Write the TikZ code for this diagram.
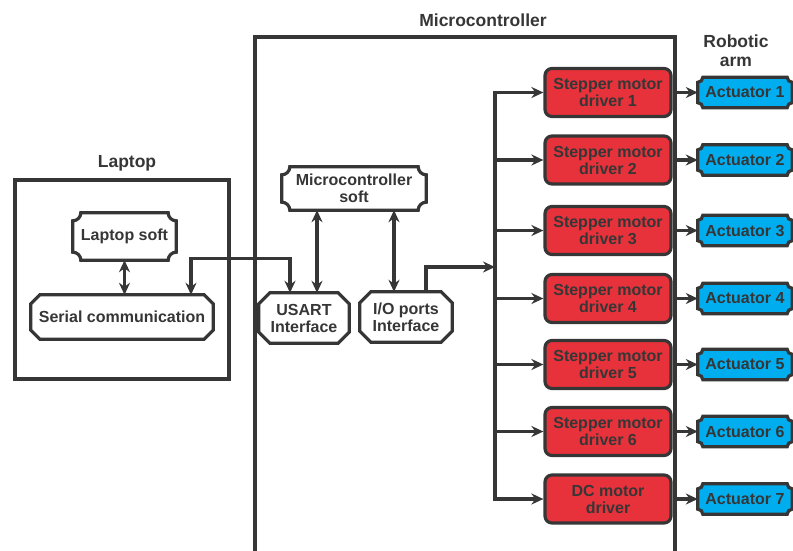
\documentclass[tikz,border=0pt]{standalone}
\usepackage{fontspec}
\setmainfont{Liberation Sans}
\usetikzlibrary{arrows.meta,backgrounds,calc}
\definecolor{ink}{HTML}{363636}
\definecolor{redfill}{HTML}{E8323B}
\definecolor{cyanfill}{HTML}{00AEEF}
\newcommand\concavebox[3]{%
  \draw[boxline, fill=#3] let \p1=(#1.south west), \p2=(#1.north east) in
   (\x1+#2,\y2) -- (\x2-#2,\y2) arc[start angle=180,end angle=270,radius=#2]
   -- (\x2,\y1+#2) arc[start angle=90,end angle=180,radius=#2]
   -- (\x1+#2,\y1) arc[start angle=0,end angle=90,radius=#2]
   -- (\x1,\y2-#2) arc[start angle=270,end angle=360,radius=#2] -- cycle;}
\newcommand\octbox[2]{%
  \draw[boxline, fill=white] let \p1=(#1.south west), \p2=(#1.north east) in
   (\x1+#2,\y2) -- (\x2-#2,\y2) -- (\x2,\y2-#2) -- (\x2,\y1+#2) -- (\x2-#2,\y1)
   -- (\x1+#2,\y1) -- (\x1,\y1+#2) -- (\x1,\y2-#2) -- cycle;}
\tikzset{
  x=1pt, y=1pt,
  boxline/.style={line width=3.2pt, draw=ink, line join=miter},
  txt/.style={font=\fontsize{16}{17}\selectfont\bfseries, text=ink, align=center, inner sep=0pt},
  title/.style={font=\fontsize{17.5}{19}\selectfont\bfseries, text=ink, align=center, inner sep=0pt},
  drv/.style={txt, draw=ink, line width=3.2pt, fill=redfill, rounded corners=7pt, minimum width=126pt, minimum height=48pt},
  act/.style={txt, minimum width=94pt, minimum height=30pt},
  arr/.style={line width=3.2pt, draw=ink, -{Stealth[length=12pt,width=11pt]}},
  darr/.style={line width=3.2pt, draw=ink, {Stealth[length=12pt,width=11pt]}-{Stealth[length=12pt,width=11pt]}},
}
\begin{document}
\begin{tikzpicture}
\useasboundingbox (0,0) rectangle (793,-550);
% containers
\draw[boxline] (15,-180) rectangle (229,-379);
\draw[boxline] (255,-560) -- (255,-37) -- (675,-37) -- (675,-560);
\node[title] (tlap) at (127,-163) {Laptop};
\node[title] (tmic) at (483,-20) {Microcontroller};
\node[title] (tarm) at (736,-51) {Robotic\\arm};
% laptop nodes
\node[txt, minimum width=103pt, minimum height=47pt] (lsoft) at (124.5,-236.5) {Laptop soft};
\node[txt, minimum width=182pt, minimum height=44pt] (serial) at (122,-317) {Serial communication};
% microcontroller nodes
\node[txt, minimum width=144pt, minimum height=43pt] (msoft) at (354,-188.5) {Microcontroller\\soft};
\node[txt, minimum width=90pt, minimum height=50pt] (usart) at (304,-318) {USART\\Interface};
\node[txt, minimum width=92pt, minimum height=50pt] (io) at (406,-317) {I/O ports\\Interface};
% drivers
\node[drv] (d1) at (608,-92.5) {Stepper motor\\driver 1};
\node[drv] (d2) at (608,-160) {Stepper motor\\driver 2};
\node[drv] (d3) at (608,-230.5) {Stepper motor\\driver 3};
\node[drv] (d4) at (608,-298.5) {Stepper motor\\driver 4};
\node[drv] (d5) at (608,-364.5) {Stepper motor\\driver 5};
\node[drv] (d6) at (608,-431.5) {Stepper motor\\driver 6};
\node[drv] (d7) at (608,-499) {DC motor\\driver};
% actuators
\node[act] (a1) at (745,-92.5) {Actuator 1};
\node[act] (a2) at (745,-160) {Actuator 2};
\node[act] (a3) at (745,-230.5) {Actuator 3};
\node[act] (a4) at (745,-298.5) {Actuator 4};
\node[act] (a5) at (745,-364.5) {Actuator 5};
\node[act] (a6) at (745,-431.5) {Actuator 6};
\node[act] (a7) at (745,-499) {Actuator 7};
\begin{pgfonlayer}{background}
\concavebox{lsoft}{8pt}{white}
\concavebox{msoft}{8pt}{white}
\octbox{serial}{9pt}
\octbox{usart}{11pt}
\octbox{io}{11pt}
\foreach \i in {1,...,7}{\concavebox{a\i}{5pt}{cyanfill}}
\end{pgfonlayer}
% connectors
\draw[darr] (lsoft.south) -- (lsoft.south |- serial.north);
\draw[darr] ([xshift=69pt]serial.north) -- ++(0,36) -| ([xshift=-14pt]usart.north);
\draw[darr] (msoft.south -| 317,0) -- (usart.north -| 317,0);
\draw[darr] (msoft.south -| 394,0) -- (io.north -| 394,0);
\coordinate (bus1) at (495,-92.5);
\coordinate (bus7) at (495,-499);
\coordinate (iohit) at (495,-267);
\draw[arr] ([xshift=20pt]io.north) |- (iohit);
\draw[darr] (d1.west) -- (bus1) -- (bus7) -- (d7.west);
\foreach \i in {2,...,6}{\draw[arr] (d\i.west -| bus1) -- (d\i.west);}
\foreach \i in {1,...,7}{\draw[arr] (d\i.east) -- (a\i.west);}
\end{tikzpicture}
\end{document}
